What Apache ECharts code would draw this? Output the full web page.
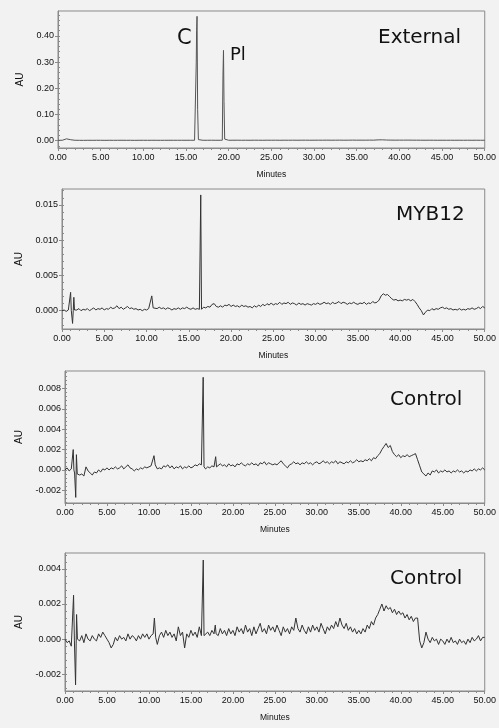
<!DOCTYPE html>
<html>
<head>
<meta charset="utf-8">
<script src="https://cdn.jsdelivr.net/npm/echarts@6/dist/echarts.min.js"></script>
<style>
  html, body { margin: 0; padding: 0; background: #f2f2f2; }
  #chart { width: 499px; height: 728px; }
</style>
</head>
<body>
<div id="chart"></div>
<script>
// Retention-time axis, minutes
const timeTicks = [0, 5, 10, 15, 20, 25, 30, 35, 40, 45, 50];

// ---- External standard (AU), sampled every 0.5 min ----
const externalStep = 0.5;
const externalSignal = [
  0.0015, 0.0015, 0.0070, 0.0035, 0.0015, 0.0014, 0.0012, 0.0015, 0.0014, 0.0015,
  0.0015, 0.0013, 0.0015, 0.0014, 0.0015, 0.0016, 0.0014, 0.0015, 0.0013, 0.0015,
  0.0015, 0.0014, 0.0016, 0.0015, 0.0014, 0.0015, 0.0016, 0.0015, 0.0015, 0.0016,
  0.0015, 0.0016, 0.0015, 0.0017, 0.0015, 0.0016, 0.0017, 0.0015, 0.0016, 0.0017,
  0.0016, 0.0017, 0.0018, 0.0016, 0.0017, 0.0016, 0.0018, 0.0017, 0.0016, 0.0018,
  0.0017, 0.0018, 0.0016, 0.0018, 0.0017, 0.0019, 0.0017, 0.0018, 0.0019, 0.0017,
  0.0018, 0.0019, 0.0018, 0.0020, 0.0018, 0.0019, 0.0020, 0.0018, 0.0019, 0.0021,
  0.0019, 0.0020, 0.0019, 0.0021, 0.0020, 0.0030, 0.0032, 0.0024, 0.0021, 0.0020,
  0.0021, 0.0020, 0.0022, 0.0020, 0.0019, 0.0018, 0.0017, 0.0018, 0.0017, 0.0016,
  0.0017, 0.0016, 0.0017, 0.0016, 0.0017, 0.0016, 0.0017, 0.0016, 0.0017, 0.0016,
  0.0016
];
const externalPeaks = [
  // C
  [[16.10, 0.0015], [16.20, 0.30], [16.24, 0.42], [16.29, 0.475], [16.36, 0.12], [16.45, 0.004], [16.55, 0.0016]],
  // Pl
  [[19.25, 0.0017], [19.33, 0.25], [19.39, 0.345], [19.45, 0.15], [19.53, 0.006], [19.62, 0.0018]]
];
const externalTicks = [0, 0.1, 0.2, 0.3, 0.4];

// ---- MYB12 extract (AU), sampled every 0.25 min ----
const myb12Step = 0.25;
const myb12Signal = [
  0.0000, 0.0001, -0.0001, 0.0001, 0.0001, -0.0001, 0.0002, 0.0001, 0.0003, 0.0000, 0.0002, 0.0001, 0.0003, 0.0000, 0.0002, 0.0004, 0.0001, 0.0003, 0.0002, 0.0004,
  0.0001, 0.0003, 0.0002, 0.0005, 0.0003, 0.0004, 0.0007, 0.0003, 0.0005, 0.0002, 0.0004, 0.0006, 0.0003, 0.0004, 0.0002, 0.0003, 0.0001, 0.0002, 0.0000, 0.0002,
  0.0001, 0.0003, 0.0006, 0.0005, 0.0004, 0.0003, 0.0005, 0.0003, 0.0004, 0.0002, 0.0004, 0.0003, 0.0001, 0.0003, 0.0002, 0.0004, 0.0002, 0.0004, 0.0003, 0.0005,
  0.0003, 0.0002, 0.0004, 0.0002, 0.0003, 0.0002, 0.0003, 0.0005, 0.0004, 0.0006, 0.0005, 0.0009, 0.0010, 0.0006, 0.0005, 0.0007, 0.0005, 0.0008, 0.0007, 0.0009,
  0.0006, 0.0008, 0.0006, 0.0007, 0.0005, 0.0008, 0.0006, 0.0007, 0.0005, 0.0006, 0.0004, 0.0007, 0.0005, 0.0008, 0.0006, 0.0009, 0.0007, 0.0010, 0.0008, 0.0011,
  0.0008, 0.0010, 0.0009, 0.0012, 0.0009, 0.0011, 0.0010, 0.0012, 0.0009, 0.0011, 0.0010, 0.0008, 0.0011, 0.0009, 0.0010, 0.0008, 0.0010, 0.0009, 0.0008, 0.0010,
  0.0009, 0.0011, 0.0009, 0.0010, 0.0012, 0.0010, 0.0011, 0.0009, 0.0012, 0.0010, 0.0011, 0.0013, 0.0010, 0.0012, 0.0011, 0.0009, 0.0011, 0.0010, 0.0012, 0.0010,
  0.0009, 0.0011, 0.0010, 0.0012, 0.0009, 0.0011, 0.0010, 0.0013, 0.0011, 0.0012, 0.0015, 0.0021, 0.0024, 0.0022, 0.0023, 0.0020, 0.0017, 0.0015, 0.0016, 0.0014,
  0.0015, 0.0014, 0.0016, 0.0015, 0.0016, 0.0014, 0.0016, 0.0013, 0.0009, 0.0004, 0.0000, -0.0006, -0.0002, 0.0001, 0.0000, 0.0003, 0.0001, 0.0003, 0.0002, 0.0004,
  0.0005, 0.0003, 0.0004, 0.0002, 0.0003, 0.0001, 0.0002, 0.0001, 0.0003, 0.0001, 0.0002, 0.0001, 0.0003, 0.0002, 0.0004, 0.0002, 0.0003, 0.0005, 0.0003, 0.0006,
  0.0004
];
const myb12Peaks = [
  [[0.92, 0.0000], [1.02, 0.0026], [1.10, 0.0000], [1.25, -0.0018], [1.33, 0.0000], [1.40, 0.0019], [1.48, 0.0001]],
  [[10.45, 0.0003], [10.62, 0.0021], [10.78, 0.0004]],
  [[16.32, 0.0004], [16.41, 0.0164], [16.50, 0.0002]]
];
const myb12Ticks = [0, 0.005, 0.010, 0.015];

// ---- Control extract, run 1 (AU), sampled every 0.25 min ----
const control1Step = 0.25;
const control1Signal = [
  0.0000, 0.0002, -0.0001, 0.0001, 0.0000, -0.0003, -0.0003, -0.0005, -0.0004, -0.0006, 0.0003, -0.0001, -0.0003, -0.0005, -0.0002, -0.0003, 0.0000, -0.0002, 0.0001, 0.0000,
  0.0002, 0.0000, 0.0002, 0.0001, 0.0003, 0.0001, 0.0002, 0.0004, 0.0001, 0.0003, 0.0005, 0.0002, 0.0001, -0.0001, 0.0001, 0.0000, 0.0002, 0.0001, 0.0003, 0.0002,
  0.0003, 0.0004, 0.0006, 0.0006, 0.0001, 0.0002, 0.0001, 0.0004, 0.0003, 0.0005, 0.0002, 0.0004, 0.0001, 0.0003, 0.0002, 0.0004, 0.0001, 0.0003, 0.0002, 0.0004,
  0.0002, 0.0003, 0.0005, 0.0004, 0.0006, 0.0005, 0.0003, 0.0001, 0.0003, 0.0002, 0.0004, 0.0003, 0.0004, 0.0003, 0.0006, 0.0004, 0.0005, 0.0003, 0.0006, 0.0004,
  0.0005, 0.0003, 0.0006, 0.0005, 0.0007, 0.0005, 0.0004, 0.0006, 0.0005, 0.0007, 0.0005, 0.0006, 0.0004, 0.0007, 0.0006, 0.0008, 0.0005, 0.0007, 0.0006, 0.0005,
  0.0006, 0.0005, 0.0007, 0.0009, 0.0006, 0.0004, 0.0002, 0.0005, 0.0006, 0.0008, 0.0006, 0.0007, 0.0005, 0.0007, 0.0006, 0.0008, 0.0006, 0.0007, 0.0005, 0.0007,
  0.0008, 0.0006, 0.0007, 0.0009, 0.0007, 0.0008, 0.0006, 0.0008, 0.0007, 0.0009, 0.0006, 0.0008, 0.0007, 0.0006, 0.0008, 0.0007, 0.0009, 0.0007, 0.0008, 0.0010,
  0.0008, 0.0009, 0.0008, 0.0010, 0.0009, 0.0011, 0.0009, 0.0012, 0.0011, 0.0014, 0.0016, 0.0020, 0.0023, 0.0026, 0.0022, 0.0024, 0.0018, 0.0015, 0.0013, 0.0015,
  0.0012, 0.0014, 0.0013, 0.0015, 0.0013, 0.0014, 0.0015, 0.0016, 0.0010, 0.0004, -0.0002, -0.0004, -0.0006, -0.0003, -0.0005, -0.0001, -0.0002, 0.0000, -0.0003, -0.0001,
  -0.0002, 0.0000, -0.0002, -0.0001, -0.0003, -0.0001, -0.0002, 0.0000, -0.0002, -0.0001, -0.0003, -0.0001, -0.0002, 0.0000, -0.0001, 0.0001, -0.0001, 0.0001, 0.0000, 0.0002,
  0.0000
];
const control1Peaks = [
  [[0.90, 0.0000], [0.98, 0.0020], [1.06, 0.0000], [1.14, -0.0003], [1.28, -0.0027], [1.36, 0.0015], [1.46, -0.0004]],
  [[10.45, 0.0004], [10.60, 0.0014], [10.75, 0.0005]],
  [[16.36, 0.0006], [16.46, 0.0091], [16.56, 0.0003]],
  [[17.85, 0.0003], [17.95, 0.0013], [18.05, 0.0003]]
];
const control1Ticks = [-0.002, 0, 0.002, 0.004, 0.006, 0.008];

// ---- Control extract, run 2 (AU), sampled every 0.25 min ----
const control2Step = 0.25;
const control2Signal = [
  0.0000, -0.0002, -0.0001, -0.0004, 0.0000, -0.0002, 0.0001, -0.0001, 0.0002, -0.0002, 0.0003, 0.0000, -0.0001, 0.0002, 0.0000, -0.0001, 0.0003, 0.0001, 0.0004, 0.0002,
  0.0000, -0.0002, -0.0005, -0.0003, 0.0001, -0.0001, 0.0002, 0.0000, 0.0001, -0.0001, 0.0003, 0.0000, 0.0002, 0.0001, -0.0001, 0.0002, 0.0000, 0.0003, 0.0001, 0.0003,
  0.0000, 0.0002, 0.0004, 0.0005, -0.0003, 0.0002, 0.0004, 0.0001, 0.0005, 0.0002, 0.0004, 0.0001, 0.0003, -0.0001, 0.0007, 0.0002, 0.0004, -0.0005, 0.0003, 0.0001,
  0.0005, 0.0002, 0.0004, 0.0001, 0.0007, 0.0002, 0.0003, 0.0001, 0.0004, 0.0002, 0.0005, 0.0003, 0.0004, 0.0002, 0.0006, 0.0003, 0.0005, 0.0002, 0.0006, 0.0003,
  0.0005, 0.0002, 0.0007, 0.0004, 0.0006, 0.0003, 0.0008, 0.0004, 0.0006, 0.0002, 0.0007, 0.0003, 0.0006, 0.0009, 0.0004, 0.0006, 0.0003, 0.0008, 0.0005, 0.0007,
  0.0004, 0.0008, 0.0005, 0.0002, 0.0007, 0.0004, 0.0006, 0.0003, 0.0007, 0.0005, 0.0012, 0.0006, 0.0004, 0.0008, 0.0005, 0.0003, 0.0007, 0.0004, 0.0008, 0.0005,
  0.0007, 0.0004, 0.0009, 0.0006, 0.0003, 0.0007, 0.0005, 0.0008, 0.0006, 0.0010, 0.0007, 0.0012, 0.0008, 0.0006, 0.0009, 0.0005, 0.0007, 0.0004, 0.0006, 0.0003,
  0.0005, 0.0003, 0.0006, 0.0004, 0.0008, 0.0006, 0.0010, 0.0008, 0.0012, 0.0014, 0.0017, 0.0020, 0.0016, 0.0019, 0.0017, 0.0018, 0.0015, 0.0017, 0.0014, 0.0016,
  0.0014, 0.0015, 0.0012, 0.0014, 0.0011, 0.0013, 0.0010, 0.0012, 0.0012, -0.0001, -0.0005, -0.0002, 0.0004, 0.0000, -0.0002, 0.0001, -0.0001, 0.0000, -0.0003, 0.0000,
  -0.0001, -0.0003, 0.0000, -0.0002, 0.0001, -0.0002, -0.0001, -0.0003, 0.0000, -0.0002, -0.0001, -0.0003, 0.0000, -0.0002, 0.0001, -0.0001, 0.0000, 0.0002, -0.0001, 0.0001,
  0.0001
];
const control2Peaks = [
  [[0.92, -0.0004], [1.02, 0.0025], [1.12, -0.0001], [1.26, -0.0026], [1.38, 0.0014], [1.48, 0.0000]],
  [[10.50, 0.0003], [10.65, 0.0012], [10.80, 0.0001]],
  [[16.38, 0.0003], [16.47, 0.0045], [16.56, 0.0002]],
  [[17.80, 0.0002], [17.90, 0.0008], [18.00, 0.0003]]
];
const control2Ticks = [-0.002, 0, 0.002, 0.004];

// Merge the evenly sampled detector signal with the finely sampled peak profiles.
function buildTrace(signal, step, peaks) {
  const spans = peaks.map(g => [g[0][0], g[g.length - 1][0]]);
  const pts = [];
  signal.forEach((v, i) => {
    const t = +(i * step).toFixed(3);
    if (!spans.some(s => t >= s[0] && t <= s[1])) pts.push([t, v]);
  });
  peaks.forEach(g => g.forEach(p => pts.push(p)));
  return pts.sort((a, b) => a[0] - b[0]);
}

// Minor tick positions: five subdivisions per labelled step.
function minorTicks(ticks, min, max) {
  const step = (ticks[1] - ticks[0]) / 5;
  const out = [];
  const start = Math.ceil((min - ticks[0]) / step - 1e-9);
  const end = Math.floor((max - ticks[0]) / step + 1e-9);
  for (let k = start; k <= end; k++) out.push(+(ticks[0] + k * step).toFixed(6));
  return out;
}

const panels = [
  { trace: buildTrace(externalSignal, externalStep, externalPeaks), ticks: externalTicks, digits: 2,
    min: -0.028, max: 0.4954, grid: { left: 58, top: 11, height: 137 }, nameGap: 27, line: '#555' },
  { trace: buildTrace(myb12Signal, myb12Step, myb12Peaks), ticks: myb12Ticks, digits: 3,
    min: -0.00259, max: 0.01724, grid: { left: 62, top: 189, height: 140 }, nameGap: 30, line: '#333' },
  { trace: buildTrace(control1Signal, control1Step, control1Peaks), ticks: control1Ticks, digits: 3,
    min: -0.00325, max: 0.00972, grid: { left: 65, top: 371, height: 132 }, nameGap: 33, line: '#333' },
  { trace: buildTrace(control2Signal, control2Step, control2Peaks), ticks: control2Ticks, digits: 3,
    min: -0.00295, max: 0.0049, grid: { left: 65, top: 553, height: 138 }, nameGap: 32, line: '#333' }
];

const axisColor = '#8a8a8a';
const labelFont = { fontFamily: 'Liberation Sans Narrow, Arial Narrow, Liberation Sans, Arial, sans-serif', fontSize: 9, color: '#111' };

const grids = [], xAxes = [], yAxes = [], series = [];
panels.forEach((p, i) => {
  grids.push(Object.assign({ right: 10, show: true, borderColor: axisColor, borderWidth: 1, backgroundColor: 'transparent' }, p.grid));
  xAxes.push({
    gridIndex: i, type: 'value', min: 0, max: 50, interval: 5,
    axisLine: { show: true, onZero: false, lineStyle: { color: axisColor } },
    axisTick: { show: true, length: 3, lineStyle: { color: axisColor } },
    minorTick: { show: true, splitNumber: 5, length: 2, lineStyle: { color: axisColor } },
    splitLine: { show: false }, minorSplitLine: { show: false },
    axisLabel: Object.assign({ margin: 5, showMinLabel: true, showMaxLabel: true, hideOverlap: false,
      formatter: v => v.toFixed(2) }, labelFont),
    name: 'Minutes', nameLocation: 'middle', nameGap: 22,
    nameTextStyle: { fontFamily: labelFont.fontFamily, fontSize: 8.5, color: '#111' }
  });
  yAxes.push({
    gridIndex: i, type: 'value', min: p.min, max: p.max,
    axisLine: { show: true, onZero: false, lineStyle: { color: axisColor } },
    axisTick: { show: true, length: 3, customValues: p.ticks, lineStyle: { color: axisColor } },
    splitLine: { show: false },
    axisLabel: Object.assign({ margin: 4, customValues: p.ticks, formatter: v => v.toFixed(p.digits) }, labelFont),
    name: 'AU', nameLocation: 'middle', nameGap: p.nameGap,
    nameTextStyle: { fontFamily: labelFont.fontFamily, fontSize: 10, color: '#111' }
  });
  yAxes.push({
    gridIndex: i, type: 'value', min: p.min, max: p.max,
    axisLine: { show: false },
    axisTick: { show: true, length: 2, customValues: minorTicks(p.ticks, p.min, p.max), lineStyle: { color: axisColor } },
    axisLabel: { show: false }, splitLine: { show: false }
  });
  series.push({
    type: 'line', xAxisIndex: i, yAxisIndex: 2 * i, data: p.trace,
    showSymbol: false, symbol: 'none', sampling: null, smooth: false,
    lineStyle: { color: p.line, width: 1 }, silent: true, clip: true
  });
});

const titleFont = 'DejaVu Sans, Verdana, sans-serif';
const text = (x, y, str, size) => ({
  type: 'text', x, y, silent: true,
  style: { text: str, fill: '#111', font: `${size}px ${titleFont}`, textVerticalAlign: 'middle', verticalAlign: 'middle' }
});

const chart = echarts.init(document.getElementById('chart'), null, { renderer: 'canvas' });
chart.setOption({
  animation: false,
  backgroundColor: '#f2f2f2',
  grid: grids, xAxis: xAxes, yAxis: yAxes, series,
  graphic: [
    text(177, 39, 'C', 21),
    text(230, 55.5, 'Pl', 18),
    text(378, 37.5, 'External', 20),
    text(396, 214.5, 'MYB12', 20),
    text(390, 399.5, 'Control', 20),
    text(390, 579, 'Control', 20)
  ]
});
</script>
</body>
</html>
